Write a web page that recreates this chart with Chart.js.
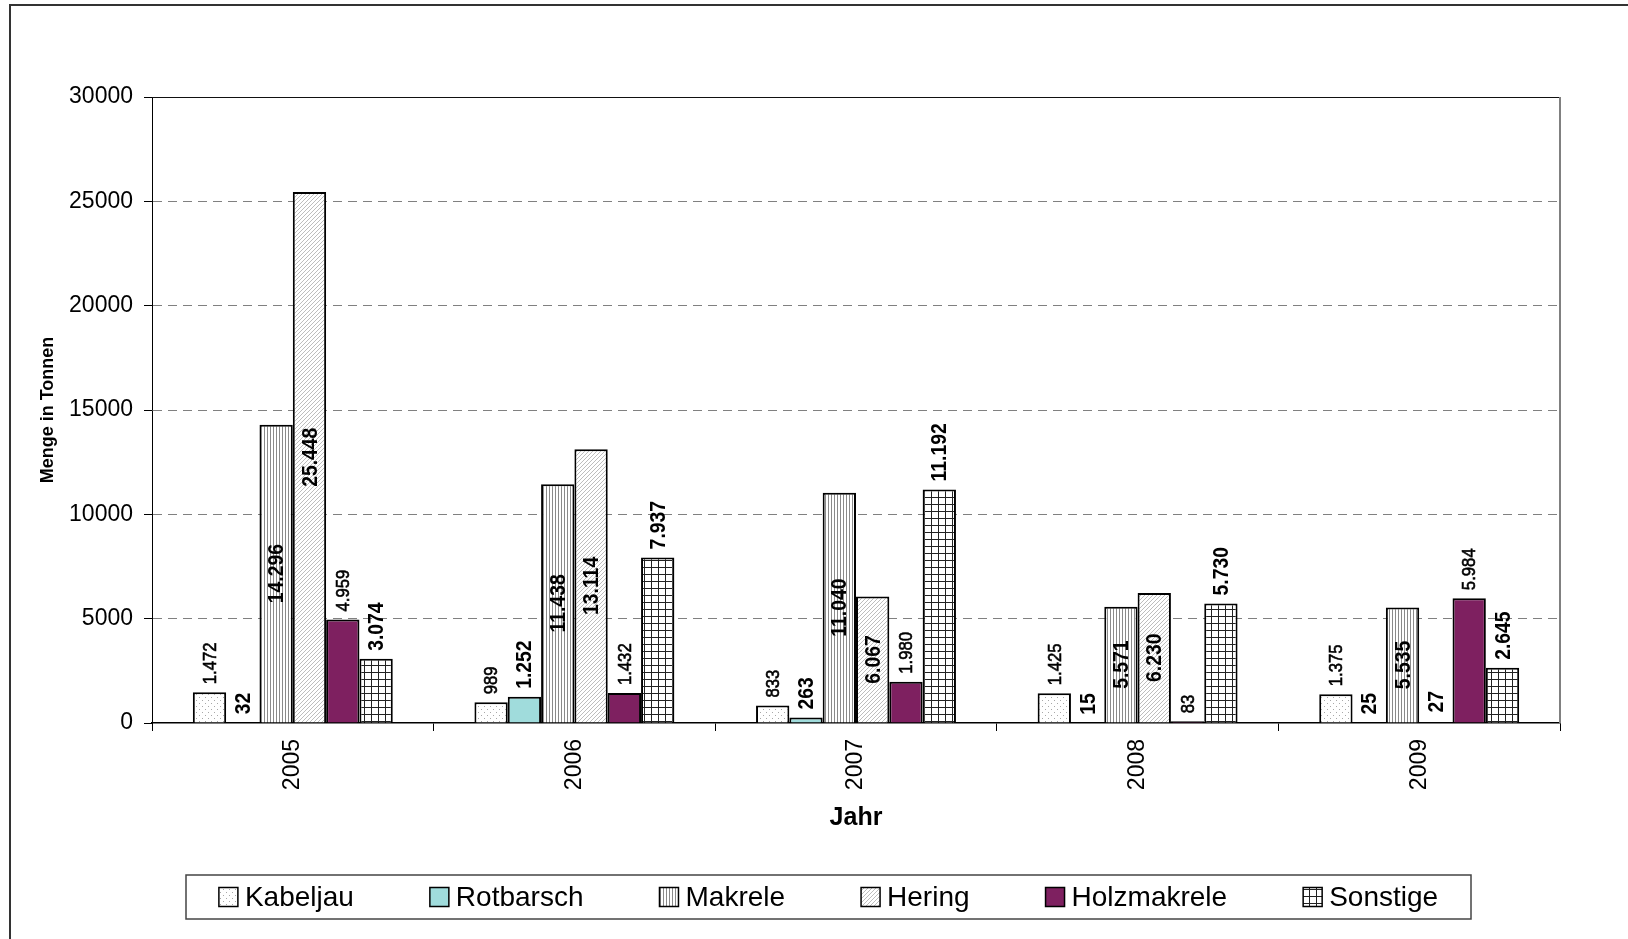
<!DOCTYPE html>
<html>
<head>
<meta charset="utf-8">
<title>Fangmengen 2005-2009</title>
<script src="https://cdn.jsdelivr.net/npm/chart.js@4.4.1/dist/chart.umd.min.js"></script>
<style>
  html, body { margin: 0; padding: 0; background: #fff; }
  canvas { display: block; }
</style>
</head>
<body>
<canvas id="fishChart" width="1628" height="939"></canvas>
<script>
// chart data (Menge in Tonnen)
const years = ['2005', '2006', '2007', '2008', '2009'];
const kabeljau = [1472, 989, 833, 1425, 1375];
const rotbarsch = [32, 1252, 263, 15, 25];
const makrele = [14296, 11438, 11040, 5571, 5535];
const hering = [25448, 13114, 6067, 6230, 27];
const holzmakrele = [4959, 1432, 1980, 83, 5984];
const sonstige = [3074, 7937, 11192, 5730, 2645];
const yTicks = [0, 5000, 10000, 15000, 20000, 25000, 30000];

const FONT = '"Liberation Sans", Arial, sans-serif';
const SQUEEZE = 0.88;              // labels in the picture are a bit narrow
const centredSeries = ['Makrele', 'Hering'];
const plainSeries = ['Kabeljau', 'Holzmakrele'];

const canvas = document.getElementById('fishChart');
const mainCtx = canvas.getContext('2d');

// fill patterns like the old Excel ones
function makePattern(size, draw) {
    const c = document.createElement('canvas');
    c.width = size;
    c.height = size;
    const g = c.getContext('2d');
    g.fillStyle = '#fff';
    g.fillRect(0, 0, size, size);
    draw(g);
    return mainCtx.createPattern(c, 'repeat');
}

const dotted = makePattern(6, g => {
    g.fillStyle = '#a8a8a8';
    g.fillRect(1, 1, 1, 1);
    g.fillRect(4, 4, 1, 1);
});
const vertical = makePattern(3, g => {
    g.fillStyle = '#8a8a8a';
    g.fillRect(0, 0, 1, 3);
});
const diagonal = makePattern(4, g => {
    g.fillStyle = '#bdbdbd';
    for (let i = 0; i < 4; i++) g.fillRect(i, 3 - i, 1, 1);
});
const grid = makePattern(7, g => {
    g.fillStyle = '#222';
    g.fillRect(0, 0, 7, 1);
    g.fillRect(0, 0, 1, 7);
});

function formatDe(v) {
    return String(v).replace(/\B(?=(\d{3})+(?!\d))/g, '.');
}

// rotated value labels on the bars
const valueLabels = {
    id: 'valueLabels',
    afterDatasetsDraw(chart) {
        const ctx = chart.ctx;
        chart.data.datasets.forEach((ds, i) => {
            const meta = chart.getDatasetMeta(i);
            const centred = centredSeries.includes(ds.label);
            const bold = !plainSeries.includes(ds.label);
            meta.data.forEach((bar, j) => {
                const text = formatDe(ds.data[j]);
                ctx.save();
                ctx.font = (bold ? 'bold 22px ' : '19px ') + FONT;
                const len = ctx.measureText(text).width * SQUEEZE;
                let y;
                if (centred) {
                    y = (bar.y + bar.base) / 2 + len / 2;
                    if (y > bar.base - 10) y = bar.base - 10;
                } else {
                    y = bar.y - 8;
                }
                ctx.translate(bar.x + 1, y);
                ctx.rotate(-Math.PI / 2);
                ctx.scale(SQUEEZE, 1);
                ctx.textAlign = 'left';
                ctx.textBaseline = 'middle';
                ctx.fillStyle = '#000';
                ctx.fillText(text, 0, 0);
                if (!bold) {
                    // the plain labels look a little heavier in the picture
                    ctx.strokeStyle = '#000';
                    ctx.lineWidth = 0.6;
                    ctx.strokeText(text, 0, 0);
                }
                ctx.restore();
            });
        });
    }
};

// frame, plot border and the boxed legend
const frameAndLegend = {
    id: 'frameAndLegend',
    afterDraw(chart) {
        const ctx = chart.ctx;
        const area = chart.chartArea;
        ctx.save();
        ctx.strokeStyle = '#333';
        ctx.lineWidth = 2;
        ctx.beginPath();
        ctx.moveTo(10, 939);
        ctx.lineTo(10, 5);
        ctx.lineTo(1628, 5);
        ctx.stroke();

        ctx.strokeStyle = '#111';
        ctx.lineWidth = 1;
        ctx.beginPath();
        ctx.moveTo(area.left, area.top + 0.5);
        ctx.lineTo(area.right, area.top + 0.5);
        ctx.stroke();
        ctx.strokeStyle = '#808080';
        ctx.lineWidth = 2;
        ctx.beginPath();
        ctx.moveTo(area.right, area.top);
        ctx.lineTo(area.right, area.bottom);
        ctx.stroke();

        // legend
        ctx.font = '28px ' + FONT;
        const box = 19, gap = 7, spacing = 76;
        const items = chart.data.datasets.map(ds => ({
            ds: ds,
            w: box + gap + ctx.measureText(ds.label).width
        }));
        const total = items.reduce((s, it) => s + it.w, 0) + spacing * (items.length - 1);
        const fl = 186, fr = 1471, ft = 875, fb = 919;
        ctx.strokeStyle = '#444';
        ctx.lineWidth = 1.5;
        ctx.strokeRect(fl, ft, fr - fl, fb - ft);
        let x = (fl + fr) / 2 - total / 2;
        const cy = (ft + fb) / 2;
        items.forEach(it => {
            ctx.fillStyle = it.ds.backgroundColor;
            ctx.fillRect(x, cy - box / 2, box, box);
            ctx.strokeStyle = '#000';
            ctx.lineWidth = 1.5;
            ctx.strokeRect(x, cy - box / 2, box, box);
            ctx.fillStyle = '#000';
            ctx.textAlign = 'left';
            ctx.textBaseline = 'middle';
            ctx.fillText(it.ds.label, x + box + gap, cy + 1);
            x += it.w + spacing;
        });
        ctx.restore();
    }
};

function bars(label, data, fill) {
    return {
        label: label,
        data: data,
        backgroundColor: fill,
        borderColor: '#000',
        borderWidth: 2,
        categoryPercentage: 0.71,
        barPercentage: 1.0
    };
}

new Chart(canvas, {
    type: 'bar',
    data: {
        labels: years,
        datasets: [
            bars('Kabeljau', kabeljau, dotted),
            bars('Rotbarsch', rotbarsch, '#a0dcdc'),
            bars('Makrele', makrele, vertical),
            bars('Hering', hering, diagonal),
            bars('Holzmakrele', holzmakrele, '#7e2060'),
            bars('Sonstige', sonstige, grid)
        ]
    },
    options: {
        responsive: false,
        devicePixelRatio: 1,
        animation: false,
        layout: {
            padding: { left: 20, top: 97, right: 68, bottom: 106 }
        },
        plugins: {
            legend: { display: false },
            tooltip: { enabled: false }
        },
        scales: {
            x: {
                grid: {
                    display: true,
                    drawOnChartArea: false,
                    drawTicks: true,
                    tickLength: 8,
                    tickColor: '#000',
                    offset: true
                },
                border: { display: true, color: '#000', width: 1.5 },
                ticks: {
                    color: '#000',
                    font: { family: FONT, size: 23 },
                    minRotation: 90,
                    maxRotation: 90,
                    autoSkip: false,
                    padding: 8
                },
                title: {
                    display: true,
                    text: 'Jahr',
                    color: '#000',
                    font: { family: FONT, size: 25, weight: 'bold' },
                    padding: { top: 0, bottom: 0 }
                },
                afterFit: function(scale) { scale.height = 110; }
            },
            y: {
                min: 0,
                max: 30000,
                afterBuildTicks: function(scale) {
                    scale.ticks = yTicks.map(v => ({ value: v }));
                },
                grid: {
                    color: function(c) {
                        const v = c.tick ? c.tick.value : null;
                        return (v === 0 || v === 30000) ? 'rgba(0,0,0,0)' : '#808080';
                    },
                    lineWidth: 1,
                    drawTicks: true,
                    tickLength: 8,
                    tickColor: '#000'
                },
                border: { display: true, color: '#000', width: 1, dash: [9, 6] },
                ticks: {
                    color: '#000',
                    font: { family: FONT, size: 23 },
                    padding: 11,
                    callback: function(value) { return String(value); }
                },
                title: {
                    display: true,
                    text: 'Menge in Tonnen',
                    color: '#000',
                    font: { family: FONT, size: 18, weight: 'bold' },
                    padding: { top: 17, bottom: 0 }
                },
                afterFit: function(scale) { scale.width = 132; }
            }
        }
    },
    plugins: [valueLabels, frameAndLegend]
});
</script>
</body>
</html>
